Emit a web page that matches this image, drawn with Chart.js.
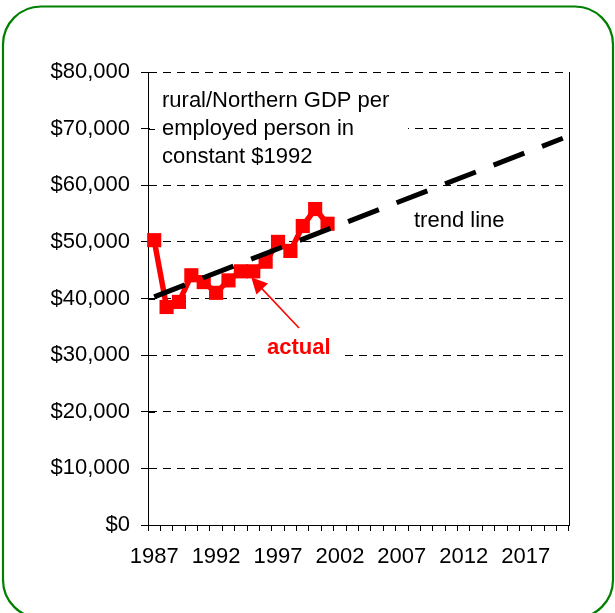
<!DOCTYPE html>
<html>
<head>
<meta charset="utf-8">
<script src="https://cdn.jsdelivr.net/npm/chart.js@4/dist/chart.umd.min.js"></script>
<style>
  html, body { margin: 0; padding: 0; background: #fff; }
  #wrap { position: relative; width: 615px; height: 613px; }
</style>
</head>
<body>
<div id="wrap"><canvas id="c" width="615" height="613"></canvas></div>
<script>
// Category axis: one slot per year
const years = ['1987','1988','1989','1990','1991','1992','1993','1994','1995','1996',
               '1997','1998','1999','2000','2001','2002','2003','2004','2005','2006',
               '2007','2008','2009','2010','2011','2012','2013','2014','2015','2016',
               '2017','2018','2019','2020'];

// Year labels shown under the axis
const labelledYears = ['1987','1992','1997','2002','2007','2012','2017'];

// GDP per employed person, constant 1992 dollars (1987-2001)
const actualGdp = [50300, 38500, 39400, 44100, 42900, 41000, 43200, 44800, 44800,
                   46500, 50000, 48400, 52800, 55800, 53200];

// Trend line end points (1987 and 2020)
const trendStart = 40300;
const trendEnd = 68300;

// Value axis
const yMin = 0, yMax = 80000, yStep = 10000;

// Annotation texts
const noteLines = ['rural/Northern GDP per', 'employed person in', 'constant $1992'];
const trendLabel = 'trend line';
const actualLabel = 'actual';
const arrowYear = '1995';

const trendGdp = years.map((y, i) => i === 0 ? trendStart : (i === years.length - 1 ? trendEnd : null));

const FONT = '"Liberation Sans", Arial, Helvetica, sans-serif';
Chart.defaults.font.family = FONT;
Chart.defaults.color = '#000';

// Text boxes, arrow and cross ticks drawn over the grid
const annotations = {
  id: 'annotations',
  beforeDatasetsDraw(chart) {
    const { ctx, chartArea: a, scales: { x, y } } = chart;
    ctx.save();

    // description box (white background hides the grid line)
    ctx.fillStyle = '#fff';
    ctx.fillRect(a.left + 2, a.top + 12, 258, 88);
    ctx.fillStyle = '#000';
    ctx.font = '22px ' + FONT;
    ctx.textBaseline = 'middle';
    ctx.textAlign = 'left';
    noteLines.forEach((t, i) => ctx.fillText(t, a.left + 14, a.top + 29 + i * 28));

    // trend line label
    ctx.fillText(trendLabel, a.left + 266, a.top + 149);

    // "actual" label on white
    ctx.fillStyle = '#fff';
    ctx.fillRect(a.left + 110, a.top + 264, 82, 26);
    ctx.fillStyle = '#ff0000';
    ctx.font = 'bold 22px ' + FONT;
    ctx.fillText(actualLabel, a.left + 119, a.top + 276);

    // arrow from the label to the 1995 point
    const idx = years.indexOf(arrowYear);
    const px = x.getPixelForValue(idx);
    const py = y.getPixelForValue(actualGdp[idx]);
    const tipX = px - 2, tipY = py + 6;
    const tailX = a.left + 151, tailY = a.top + 256;
    const ang = Math.atan2(tipY - tailY, tipX - tailX);
    ctx.strokeStyle = '#ff0000';
    ctx.lineWidth = 1.6;
    ctx.beginPath();
    ctx.moveTo(tailX, tailY);
    ctx.lineTo(tipX - 10 * Math.cos(ang), tipY - 10 * Math.sin(ang));
    ctx.stroke();
    ctx.fillStyle = '#ff0000';
    ctx.beginPath();
    ctx.moveTo(tipX, tipY);
    ctx.lineTo(tipX - 16 * Math.cos(ang) + 8 * Math.sin(ang), tipY - 16 * Math.sin(ang) - 8 * Math.cos(ang));
    ctx.lineTo(tipX - 16 * Math.cos(ang) - 8 * Math.sin(ang), tipY - 16 * Math.sin(ang) + 8 * Math.cos(ang));
    ctx.closePath();
    ctx.fill();

    // inner half of the cross tick marks on the value axis
    ctx.strokeStyle = '#000';
    ctx.lineWidth = 1;
    y.ticks.forEach(t => {
      const ty = Math.round(y.getPixelForValue(t.value)) + 0.5;
      ctx.beginPath();
      ctx.moveTo(a.left, ty);
      ctx.lineTo(a.left + 7, ty);
      ctx.stroke();
    });
    ctx.restore();
  },
  afterDraw(chart) {
    const { ctx, chartArea: a } = chart;
    ctx.save();
    // right edge of the plot area
    ctx.strokeStyle = '#000';
    ctx.lineWidth = 1;
    ctx.beginPath();
    ctx.moveTo(Math.round(a.right) + 0.5, a.top);
    ctx.lineTo(Math.round(a.right) + 0.5, a.bottom);
    ctx.stroke();

    // rounded green frame
    const l = 3, t = 6.5, r = 613, b = 618, rad = 38;
    ctx.strokeStyle = '#008000';
    ctx.lineWidth = 2.2;
    ctx.beginPath();
    ctx.moveTo(l + rad, t);
    ctx.lineTo(r - rad, t);
    ctx.arcTo(r, t, r, t + rad, rad);
    ctx.lineTo(r, b - rad);
    ctx.arcTo(r, b, r - rad, b, rad);
    ctx.lineTo(l + rad, b);
    ctx.arcTo(l, b, l, b - rad, rad);
    ctx.lineTo(l, t + rad);
    ctx.arcTo(l, t, l + rad, t, rad);
    ctx.closePath();
    ctx.stroke();
    ctx.restore();
  }
};

new Chart(document.getElementById('c'), {
  type: 'line',
  data: {
    labels: years,
    datasets: [
      {
        label: 'trend',
        data: trendGdp,
        spanGaps: true,
        borderColor: '#000',
        borderWidth: 5,
        borderDash: [33, 19],
        borderCapStyle: 'butt',
        pointRadius: 0,
        fill: false,
        tension: 0
      },
      {
        label: 'actual',
        data: actualGdp,
        borderColor: '#ff0000',
        backgroundColor: '#ff0000',
        borderWidth: 5.5,
        pointStyle: 'rect',
        pointRadius: 10,
        pointBorderWidth: 0,
        pointBackgroundColor: '#ff0000',
        fill: false,
        tension: 0
      }
    ]
  },
  options: {
    responsive: false,
    animation: false,
    devicePixelRatio: 1,
    layout: { padding: { left: 0, top: 72, right: 46, bottom: 0 } },
    plugins: {
      legend: { display: false },
      tooltip: { enabled: false }
    },
    scales: {
      x: {
        type: 'category',
        offset: true,
        grid: {
          offset: true,
          drawOnChartArea: false,
          drawTicks: true,
          tickLength: 6,
          color: '#000',
          lineWidth: 1
        },
        border: { display: true, color: '#000', width: 1 },
        ticks: {
          autoSkip: false,
          maxRotation: 0,
          minRotation: 0,
          padding: 13,
          color: '#000',
          font: { size: 22 },
          callback(v) {
            const lab = this.getLabelForValue(v);
            return labelledYears.includes(lab) ? lab : '';
          }
        },
        afterFit(s) { s.height = 88; }
      },
      y: {
        min: yMin,
        max: yMax,
        grid: {
          color: '#000',
          lineWidth: 1,
          drawTicks: true,
          tickLength: 7,
          tickBorderDash: []
        },
        border: { display: true, color: '#000', width: 1, dash: [8, 6] },
        ticks: {
          stepSize: yStep,
          padding: 11,
          color: '#000',
          font: { size: 22 },
          callback: v => '$' + v.toLocaleString('en-US')
        },
        afterFit(s) { s.width = 148; }
      }
    }
  },
  plugins: [annotations]
});
</script>
</body>
</html>
